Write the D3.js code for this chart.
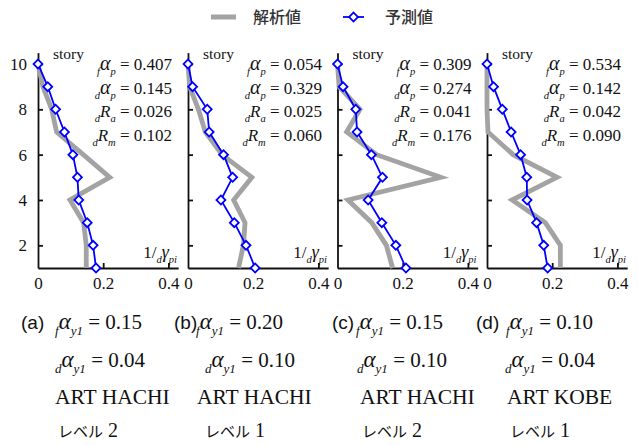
<!DOCTYPE html>
<html>
<head>
<meta charset="utf-8">
<script src="https://cdn.jsdelivr.net/npm/d3@7"></script>
<style>
  body { margin: 0; background: #fff; }
  svg { display: block; }
</style>
</head>
<body>
<div id="chart"></div>
<script>
// story levels (top to bottom) and values
const stories = [10, 9, 8, 7, 6, 5, 4, 3, 2, 1];
const analysisA = [0, 0.015, 0.042, 0.057, 0.139, 0.220, 0.098, 0.140, 0.148, 0.148];
const predictA  = [0, 0.030, 0.054, 0.081, 0.107, 0.121, 0.125, 0.151, 0.169, 0.178];
const analysisB = [0, 0.005, 0.032, 0.053, 0.104, 0.196, 0.140, 0.175, 0.170, 0.155];
const predictB  = [0, 0.014, 0.059, 0.065, 0.109, 0.137, 0.101, 0.142, 0.178, 0.206];
const analysisC = [0, 0.005, 0.069, 0.028, 0.120, 0.317, 0.032, 0.105, 0.150, 0.169];
const predictC  = [0, 0.017, 0.056, 0.060, 0.104, 0.138, 0.094, 0.136, 0.179, 0.210];
const analysisD = [0, 0, 0, 0.003, 0.080, 0.215, 0.077, 0.179, 0.225, 0.225];
const predictD  = [0, 0.020, 0.047, 0.074, 0.103, 0.122, 0.123, 0.152, 0.174, 0.186];

const xTicks = [0, 0.2, 0.4];
const yTicks = [2, 4, 6, 8, 10];

const fAlphaP = ['0.407', '0.054', '0.309', '0.534'];
const dAlphaP = ['0.145', '0.329', '0.274', '0.142'];
const dRa     = ['0.026', '0.025', '0.041', '0.042'];
const dRm     = ['0.102', '0.060', '0.176', '0.090'];

const panelLabels = ['(a)', '(b)', '(c)', '(d)'];
const fAlphaY1 = ['0.15', '0.20', '0.15', '0.10'];
const dAlphaY1 = ['0.04', '0.10', '0.10', '0.04'];
const waves    = ['ART HACHI', 'ART HACHI', 'ART HACHI', 'ART KOBE'];
const levelNames = ['レベル', 'レベル', 'レベル', 'レベル'];
const levelNums  = ['2', '1', '2', '1'];

const legendNames = ['解析値', '予測値'];

const analysis = [analysisA, analysisB, analysisC, analysisD];
const predict = [predictA, predictB, predictC, predictD];

// layout
const W = 639, H = 445;
const originX = [38, 188, 337.5, 487];
const pxPerUnit = 326;
const labelX = [21, 174, 332, 476];
const formulaX = [55, 196, 356, 506];
const rowTwoX = [55, 205, 357, 505];
const waveX = [55, 197, 360, 507];
const levelX = [58, 205, 362, 510];

const SERIF = '"Liberation Serif", "Times New Roman", serif';
const SANS = '"Liberation Sans", Arial, sans-serif';
const CJK = '"Noto Sans CJK JP", "Noto Sans", sans-serif';
const GRAY = '#a3a3a3';
const BLUE = '#0000ff';

const svg = d3.select('#chart').append('svg')
    .attr('width', W).attr('height', H);

// write text with small subscripts; parts: {t, sub, it, size, font}
function richText(sel, x, y, parts, size, anchor) {
    const t = sel.append('text')
        .attr('x', x).attr('y', y)
        .attr('font-family', SERIF)
        .attr('font-size', size)
        .attr('fill', '#111')
        .attr('text-anchor', anchor || 'start');
    let shifted = 0;
    parts.forEach(p => {
        const target = p.sub ? size * 0.28 : 0;
        const ts = t.append('tspan')
            .attr('dy', target - shifted)
            .attr('font-size', p.sub ? size * 0.62 : (p.size || size))
            .text(p.t);
        if (p.it) ts.attr('font-style', 'italic');
        if (p.font) ts.attr('font-family', p.font);
        shifted = target;
    });
    return t;
}

const diamond = d3.symbol().type(d3.symbolSquare).size(40);

const y = d3.scaleLinear().domain([1, 10.5]).range([268, 268 - 9.5 * 22.67]);

analysis.forEach((an, i) => {
    const g = svg.append('g').attr('transform', `translate(${originX[i]},0)`);
    const x = d3.scaleLinear().domain([0, 0.43]).range([0, 0.43 * pxPerUnit]);

    // axes
    const xAxis = g.append('g')
        .attr('transform', `translate(0,${y(1)})`)
        .call(d3.axisBottom(x).tickValues(xTicks).tickSizeInner(-5).tickSizeOuter(0)
            .tickPadding(9).tickFormat(d => d === 0 ? '0' : d3.format('.1f')(d)));
    const yAxis = g.append('g')
        .call(d3.axisLeft(y).tickValues(yTicks).tickSizeInner(-5).tickSizeOuter(0)
            .tickPadding(11).tickFormat(d => i === 0 ? d : ''));
    [xAxis, yAxis].forEach(a => {
        a.attr('font-family', SERIF).attr('font-size', 17);
        a.selectAll('path, line').attr('stroke', '#111').attr('stroke-width', 1.8);
        a.selectAll('text').attr('fill', '#111');
    });
    xAxis.selectAll('.tick').filter(d => d === 0).select('line').remove();

    // analysis line
    const line = d3.line().x(d => x(d[0])).y(d => y(d[1]));
    g.append('path')
        .datum(an.map((v, k) => [v, stories[k]]))
        .attr('d', line)
        .attr('fill', 'none')
        .attr('stroke', GRAY)
        .attr('stroke-width', 4.8)
        .attr('stroke-linejoin', 'miter');

    // prediction line + markers
    const pr = predict[i].map((v, k) => [v, stories[k]]);
    g.append('path')
        .datum(pr)
        .attr('d', line)
        .attr('fill', 'none')
        .attr('stroke', BLUE)
        .attr('stroke-width', 1.8);
    g.selectAll('.mk').data(pr).enter().append('path')
        .attr('class', 'mk')
        .attr('d', diamond)
        .attr('transform', d => `translate(${x(d[0])},${y(d[1])}) rotate(45)`)
        .attr('fill', '#fff')
        .attr('stroke', BLUE)
        .attr('stroke-width', 1.8);

    // labels inside panel
    g.append('text')
        .attr('x', 15).attr('y', 59)
        .attr('font-family', SERIF).attr('font-size', 15.5)
        .attr('fill', '#111')
        .text('story');

    const rx = 134;
    richText(g, rx, 70, [{t: 'f', sub: true, it: true}, {t: 'α', it: true, size: 20}, {t: 'p', sub: true, it: true}, {t: ' = ' + fAlphaP[i]}], 17, 'end');
    richText(g, rx, 94, [{t: 'd', sub: true, it: true}, {t: 'α', it: true, size: 20}, {t: 'p', sub: true, it: true}, {t: ' = ' + dAlphaP[i]}], 17, 'end');
    richText(g, rx, 117, [{t: 'd', sub: true, it: true}, {t: 'R', it: true}, {t: 'a', sub: true, it: true}, {t: ' = ' + dRa[i]}], 17, 'end');
    richText(g, rx, 141, [{t: 'd', sub: true, it: true}, {t: 'R', it: true}, {t: 'm', sub: true, it: true}, {t: ' = ' + dRm[i]}], 17, 'end');

    richText(g, 139, 258, [{t: '1/'}, {t: 'd', sub: true, it: true}, {t: 'γ', it: true, size: 18}, {t: 'pi', sub: true, it: true}], 17, 'end');

    // captions below
    svg.append('text')
        .attr('x', labelX[i]).attr('y', 329)
        .attr('font-family', SANS).attr('font-size', 19)
        .attr('fill', '#111')
        .text(panelLabels[i]);
    richText(svg, formulaX[i], 329, [{t: 'f', sub: true, it: true}, {t: 'α', it: true, size: 23}, {t: 'y1', sub: true, it: true}, {t: ' = ' + fAlphaY1[i]}], 21);
    richText(svg, rowTwoX[i], 367, [{t: 'd', sub: true, it: true}, {t: 'α', it: true, size: 23}, {t: 'y1', sub: true, it: true}, {t: ' = ' + dAlphaY1[i]}], 21);
    svg.append('text')
        .attr('x', waveX[i]).attr('y', 404)
        .attr('font-family', SERIF).attr('font-size', 21.5)
        .attr('fill', '#111')
        .text(waves[i]);
    const lv = svg.append('text')
        .attr('x', levelX[i]).attr('y', 437)
        .attr('font-family', SERIF).attr('font-size', 20)
        .attr('fill', '#111');
    lv.append('tspan')
        .attr('font-family', CJK).attr('font-size', 15).attr('font-weight', 400)
        .text(levelNames[i]);
    lv.append('tspan').text(' ' + levelNums[i]);
});

// legend
const lg = svg.append('g');
lg.append('line')
    .attr('x1', 211).attr('x2', 236).attr('y1', 17).attr('y2', 17)
    .attr('stroke', GRAY).attr('stroke-width', 5);
lg.append('text')
    .attr('x', 253).attr('y', 23)
    .attr('font-family', CJK).attr('font-size', 16).attr('font-weight', 500)
    .attr('fill', '#333')
    .text(legendNames[0]);
lg.append('line')
    .attr('x1', 343).attr('x2', 364).attr('y1', 17).attr('y2', 17)
    .attr('stroke', BLUE).attr('stroke-width', 1.8);
lg.append('path')
    .attr('d', diamond)
    .attr('transform', 'translate(353.5,17) rotate(45)')
    .attr('fill', '#fff').attr('stroke', BLUE).attr('stroke-width', 1.8);
lg.append('text')
    .attr('x', 385).attr('y', 23)
    .attr('font-family', CJK).attr('font-size', 16).attr('font-weight', 500)
    .attr('fill', '#333')
    .text(legendNames[1]);
</script>
</body>
</html>
